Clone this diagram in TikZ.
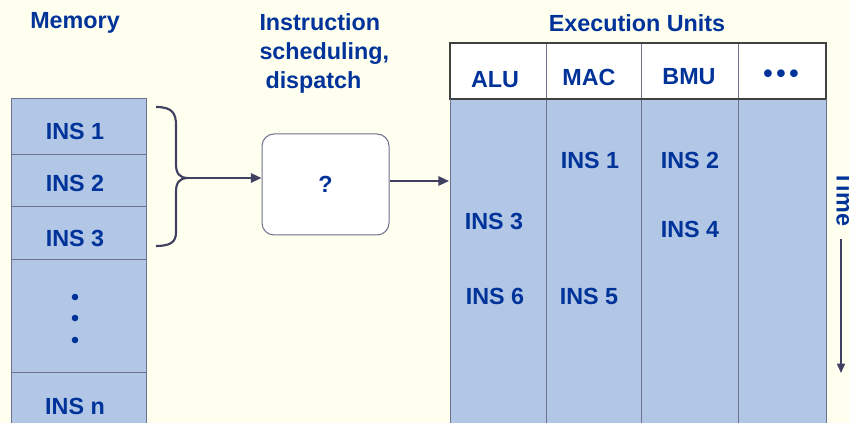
\documentclass[tikz,border=0pt]{standalone}
\usepackage{fontspec}
\setmainfont{Liberation Sans}
\usetikzlibrary{arrows.meta}
\definecolor{bgcream}{RGB}{255,255,240}
\definecolor{txtblue}{RGB}{0,51,153}
\definecolor{cellblue}{RGB}{178,199,230}
\definecolor{linegray}{RGB}{110,112,140}
\definecolor{arrowgray}{RGB}{64,64,96}
\tikzset{every picture/.style={line width=0.75pt}}
\tikzset{
  lbl/.style={inner sep=0.75pt, text=txtblue, font=\fontsize{17.5}{21.8}\selectfont\bfseries},
  cell/.style={draw=linegray, fill=cellblue},
  conn/.style={draw=arrowgray, line width=1.6pt, -{Triangle[length=8pt,width=7pt]}},
}

\begin{document}
\begin{tikzpicture}[x=0.75pt,y=0.75pt,yscale=-1,xscale=1]
	\fill [bgcream] (0,0) rectangle (849,423) ;
	\clip (0,0) rectangle (849,423) ;
	% Memory column
	\draw [cell] (11,99) rectangle (146,155) ;
	\draw [cell] (11,155) rectangle (146,207) ;
	\draw [cell] (11,207) rectangle (146,260) ;
	\draw [cell] (11,260) rectangle (146,373) ;
	\draw [cell] (11,373) rectangle (146,440) ;
	\fill [txtblue] (75,297) circle (3.3) (75,318) circle (3.3) (75,340) circle (3.3) ;
	% Text Node
	\node [lbl] (mem) at (75,23) {Memory};
	\node [lbl] (m1) at (75,131) {INS 1};
	\node [lbl] (m2) at (75,183) {INS 2};
	\node [lbl] (m3) at (75,238) {INS 3};
	\node [lbl] (mn) at (75,406) {INS n};
	% Brace
	\draw [arrowgray, line width=1.6pt] (156,107) .. controls (172,107) and (176,113) .. (176,125) -- (176,164) .. controls (176,173) and (179,178) .. (188,178) .. controls (179,178) and (176,183) .. (176,192) -- (176,232) .. controls (176,241) and (172,246) .. (156,246) ;
	\coordinate (brtip) at (188,178) ;
	% Scheduler
	\node [draw=linegray, fill=white, rounded corners=9pt, minimum width=95.25pt, minimum height=75.75pt, inner sep=0pt, lbl] (q) at (325.5,184.5) {?};
	\node [lbl, align=left, anchor=north west] (sched) at (258,12) {Instruction\\scheduling,\\\hspace*{4.5pt}dispatch};
	% Execution units
	\draw [cell] (450,99) rectangle (546,440) ;
	\draw [cell] (546,99) rectangle (641,440) ;
	\draw [cell] (641,99) rectangle (738,440) ;
	\draw [cell] (738,99) rectangle (826,440) ;
	\draw [fill=white, draw=linegray] (450,43) rectangle (826,99) ;
	\draw [linegray] (546,43) -- (546,99) (641,43) -- (641,99) (738,43) -- (738,99) ;
	\draw [black!75, line width=1.2pt] (450,99) -- (450,43) -- (826,43) -- (826,99) -- cycle ;
	\draw [linegray] (450,99) -- (450,440) (826,99) -- (826,440) ;
	\coordinate (eu) at (449,181) ;
	% Text Node
	\node [lbl] (exu) at (637,23) {Execution Units};
	\node [lbl] (alu) at (495,80) {ALU};
	\node [lbl] (mac) at (589,77) {MAC};
	\node [lbl] (bmu) at (689,77) {BMU};
	\node [lbl, font=\fontsize{20}{22}\selectfont\bfseries] (more) at (781,76) {•\hspace{2.8pt}•\hspace{2.8pt}•};
	\node [lbl] (e1) at (590,160) {INS 1};
	\node [lbl] (e2) at (690,160) {INS 2};
	\node [lbl] (e3) at (494,221) {INS 3};
	\node [lbl] (e4) at (690,229) {INS 4};
	\node [lbl] (e6) at (495,296) {INS 6};
	\node [lbl] (e5) at (589,296) {INS 5};
	% Time
	\node [lbl, rotate=-90] (time) at (845,199) {Time};
	\coordinate (t0) at (841,239) ;
	\coordinate (t1) at (841,373) ;
	% Connectors
	\draw [conn] (brtip) -- (brtip -| q.west) ;
	\draw [conn] (q.east |- eu) -- (eu) ;
	\draw [draw=arrowgray, line width=1.1pt, -{Triangle[length=7pt,width=6pt]}] (t0) -- (t1) ;
\end{tikzpicture}
\end{document}
